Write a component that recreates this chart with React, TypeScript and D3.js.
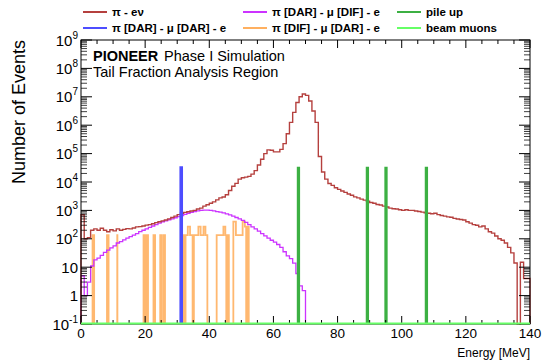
import React from 'react';
import * as d3 from 'd3';

// ---------- data ----------
// pi -> e nu, 1 MeV bins starting at 0
const redCounts: number[] = [
  700, 100, 110, 200, 224, 200, 234, 200, 178, 209,
  190, 224, 200, 214, 229, 224, 240, 263, 269, 282,
  302, 316, 339, 372, 398, 427, 457, 501, 562, 631,
  708, 794, 851, 891, 955, 1000, 1122, 1202, 1413, 1585,
  1778, 1995, 2344, 2754, 2951, 3548, 5012, 7079, 8913, 12600,
  14100, 14800, 15800, 19000, 25100, 39800, 63100, 100000, 135000, 132000,
  115000, 115000, 141000, 224000, 501000, 1260000, 2820000, 6310000, 10000000, 12600000,
  11200000, 7080000, 3160000, 1260000, 79400, 22400, 12600, 8900, 7600, 6300,
  5500, 4800, 4300, 3800, 3400, 3000, 2750, 2500, 2300, 2100,
  1900, 1780, 1620, 1550, 1410, 1320, 1200, 1150, 1120, 1050,
  1000, 1050, 1000, 1000, 950, 910, 870, 830, 790, 760,
  790, 710, 660, 630, 590, 575, 525, 500, 480, 457,
  400, 355, 316, 300, 263, 282, 224, 178, 158, 126,
  100, 89, 71, 50, 32, 14, 0, 15, 4, 4,
];

// pi[DAR] - mu[DIF] - e, 1 MeV bins starting at 0
const magentaCounts: number[] = [
  5, 1, 3, 11, 18, 21, 26, 33, 40, 48,
  56, 71, 79, 91, 105, 120, 135, 151, 178, 200,
  224, 251, 282, 316, 355, 398, 427, 468, 501, 550,
  603, 661, 724, 794, 851, 912, 955, 1000, 1023, 1023,
  1000, 955, 912, 871, 813, 759, 692, 631, 562, 501,
  447, 380, 316, 263, 224, 186, 151, 126, 105, 89,
  76, 63, 50, 35, 25, 20, 14, 6, 2.2, 1.5,
];

// pi[DIF] - mu[DAR] - e : [start MeV, end MeV, count]
const orangeBins: [number, number, number][] = [
  [3.6, 4.1, 135], [8.1, 8.6, 135], [11.3, 11.35, 135],
  [19.5, 19.9, 135], [20.4, 20.9, 135], [22.6, 23.1, 135],
  [24.7, 25.1, 135], [25.7, 26.2, 135],
  [31.9, 32.3, 135], [32.6, 33.3, 135], [33.3, 34.0, 270], [34.0, 34.8, 135],
  [35.2, 35.6, 135], [35.6, 36.6, 135], [36.6, 37.3, 270], [37.3, 38.2, 135],
  [38.2, 38.8, 270], [38.8, 39.4, 135],
  [42.3, 44.4, 135], [44.4, 45.0, 270], [45.0, 45.3, 135], [45.7, 46.1, 135],
  [47.5, 48.3, 405], [48.3, 50.4, 135], [50.4, 51.1, 405], [51.1, 51.5, 270],
  [51.9, 52.3, 270],
];

// pi[DAR] - mu[DAR] - e
const blueBins: [number, number, number][] = [[31.0, 31.5, 33000]];

// pile up
const greenBins: [number, number, number][] = [
  [67.6, 68.0, 32000], [89.1, 89.5, 32000], [94.9, 95.3, 32000], [107.5, 107.9, 32000],
];

// beam muons: empty histogram over full range
const beamMuonRange: [number, number] = [0, 140];

const xTicks = [0, 20, 40, 60, 80, 100, 120, 140];
const yDecades = [-1, 0, 1, 2, 3, 4, 5, 6, 7, 8, 9];

const legendItems = [
  { label: 'π - eν', color: '#b5403e', col: 0, row: 0 },
  { label: 'π [DAR] - μ [DAR] - e', color: '#4d4dff', col: 0, row: 1 },
  { label: 'π [DAR] - μ [DIF] - e', color: '#cc33ff', col: 1, row: 0 },
  { label: 'π [DIF] - μ [DAR] - e', color: '#ffb060', col: 1, row: 1 },
  { label: 'pile up', color: '#3cb043', col: 2, row: 0 },
  { label: 'beam muons', color: '#66ff66', col: 2, row: 1 },
];

// ---------- layout ----------
const W = 548, H = 362;
const L = 81, R = 530, T = 40, B = 324;
const FONT = '"Liberation Sans", Arial, Helvetica, sans-serif';

const x = d3.scaleLinear().domain([0, 140]).range([L, R]);
const y = d3.scaleLog().domain([0.1, 1e9]).range([B, T]).clamp(true);

function uniformHistPath(counts: number[], start: number, width: number): string {
  let d = `M${x(start)},${B}`;
  counts.forEach((c, i) => {
    const yv = c > 0 ? y(c) : B;
    d += `V${yv}H${x(start + (i + 1) * width)}`;
  });
  d += `V${B}`;
  return d;
}

function intervalHistPath(bins: [number, number, number][]): string {
  let d = '';
  let prevEnd: number | null = null;
  bins.forEach(([s, e, c]) => {
    if (prevEnd === null || Math.abs(s - prevEnd) > 1e-6) {
      if (prevEnd !== null) d += `V${B}`;
      d += `M${x(s)},${B}`;
    }
    d += `V${y(c)}H${x(e)}`;
    prevEnd = e;
  });
  d += `V${B}`;
  return d;
}

export default function App() {
  const xMinor = d3.range(0, 141, 5).filter((v) => v % 20 !== 0);
  const yMinor: number[] = [];
  for (let p = -1; p < 9; p++) for (let k = 2; k <= 9; k++) yMinor.push(k * Math.pow(10, p));

  const legendColX = [83, 243, 397];
  const legendRowY = [12, 28];

  return (
    <svg width={W} height={H} style={{ position: 'absolute', left: 0, top: 0, background: '#fff' }} fontFamily={FONT}>
      <rect x={0} y={0} width={W} height={H} fill="#fff" />

      {/* legend */}
      {legendItems.map((it) => {
        const lx = legendColX[it.col];
        const ly = legendRowY[it.row];
        return (
          <g key={it.label}>
            <line x1={lx} x2={lx + 24} y1={ly} y2={ly} stroke={it.color} strokeWidth={2} />
            <text x={lx + 29} y={ly + 4} fontSize={11.5} fontWeight="bold" fill="#000">{it.label}</text>
          </g>
        );
      })}

      {/* histograms */}
      <path d={intervalHistPath(orangeBins)} fill="none" stroke="#ffb060" strokeWidth={1.8} strokeOpacity={0.9} />
      <path d={uniformHistPath(magentaCounts, 0, 1)} fill="none" stroke="#cc33ff" strokeWidth={1.3} />
      <path d={uniformHistPath(redCounts, 0, 1)} fill="none" stroke="#b5403e" strokeWidth={1.4} />
      <path d={intervalHistPath(blueBins)} fill="#4d4dff" stroke="#4d4dff" strokeWidth={2} />
      <path d={intervalHistPath(greenBins)} fill="#3cb043" stroke="#3cb043" strokeWidth={2} />

      {/* frame */}
      <rect x={L} y={T} width={R - L} height={B - T} fill="none" stroke="#000" strokeWidth={1} />

      {/* x ticks */}
      {xTicks.map((v) => (
        <g key={'xt' + v}>
          <line x1={x(v)} x2={x(v)} y1={B} y2={B - 8} stroke="#000" />
          <line x1={x(v)} x2={x(v)} y1={T} y2={T + 8} stroke="#000" />
          <text x={x(v)} y={338} fontSize={13.5} textAnchor="middle" fill="#000">{v}</text>
        </g>
      ))}
      {xMinor.map((v) => (
        <g key={'xm' + v}>
          <line x1={x(v)} x2={x(v)} y1={B} y2={B - 4} stroke="#000" />
          <line x1={x(v)} x2={x(v)} y1={T} y2={T + 4} stroke="#000" />
        </g>
      ))}

      {/* y ticks */}
      {yDecades.map((p) => {
        const v = Math.pow(10, p);
        const yy = y(v);
        return (
          <g key={'yt' + p}>
            <line x1={L} x2={L + 11} y1={yy} y2={yy} stroke="#000" />
            <line x1={R} x2={R - 11} y1={yy} y2={yy} stroke="#000" />
            <text x={78} y={yy + 5.5} fontSize={15} textAnchor="end" fill="#000">
              {p === 0 ? '1' : p === 1 ? '10' : (
                <>
                  10<tspan fontSize={10} dy={-7}>{String(p)}</tspan>
                </>
              )}
            </text>
          </g>
        );
      })}
      {yMinor.map((v, i) => (
        <g key={'ym' + i}>
          <line x1={L} x2={L + 6} y1={y(v)} y2={y(v)} stroke="#000" strokeOpacity={0.75} />
          <line x1={R} x2={R - 6} y1={y(v)} y2={y(v)} stroke="#000" strokeOpacity={0.75} />
        </g>
      ))}

      {/* beam muons (empty histogram along the bottom) */}
      <line x1={x(beamMuonRange[0])} x2={x(beamMuonRange[1])} y1={B - 0.5} y2={B - 0.5} stroke="#66ff66" strokeWidth={2} />

      {/* axis titles */}
      <text x={R} y={357} fontSize={12} textAnchor="end" fill="#000">Energy [MeV]</text>
      <text transform={`translate(25,${T}) rotate(-90)`} fontSize={18} textAnchor="end" fill="#000">Number of Events</text>

      {/* annotation */}
      <text x={93} y={60.5} fontSize={14.5} fontWeight="bold" fill="#000">PIONEER</text>
      <text x={164} y={60.5} fontSize={14.5} fill="#000">Phase I Simulation</text>
      <text x={93} y={77} fontSize={14.5} fill="#000">Tail Fraction Analysis Region</text>
    </svg>
  );
}
